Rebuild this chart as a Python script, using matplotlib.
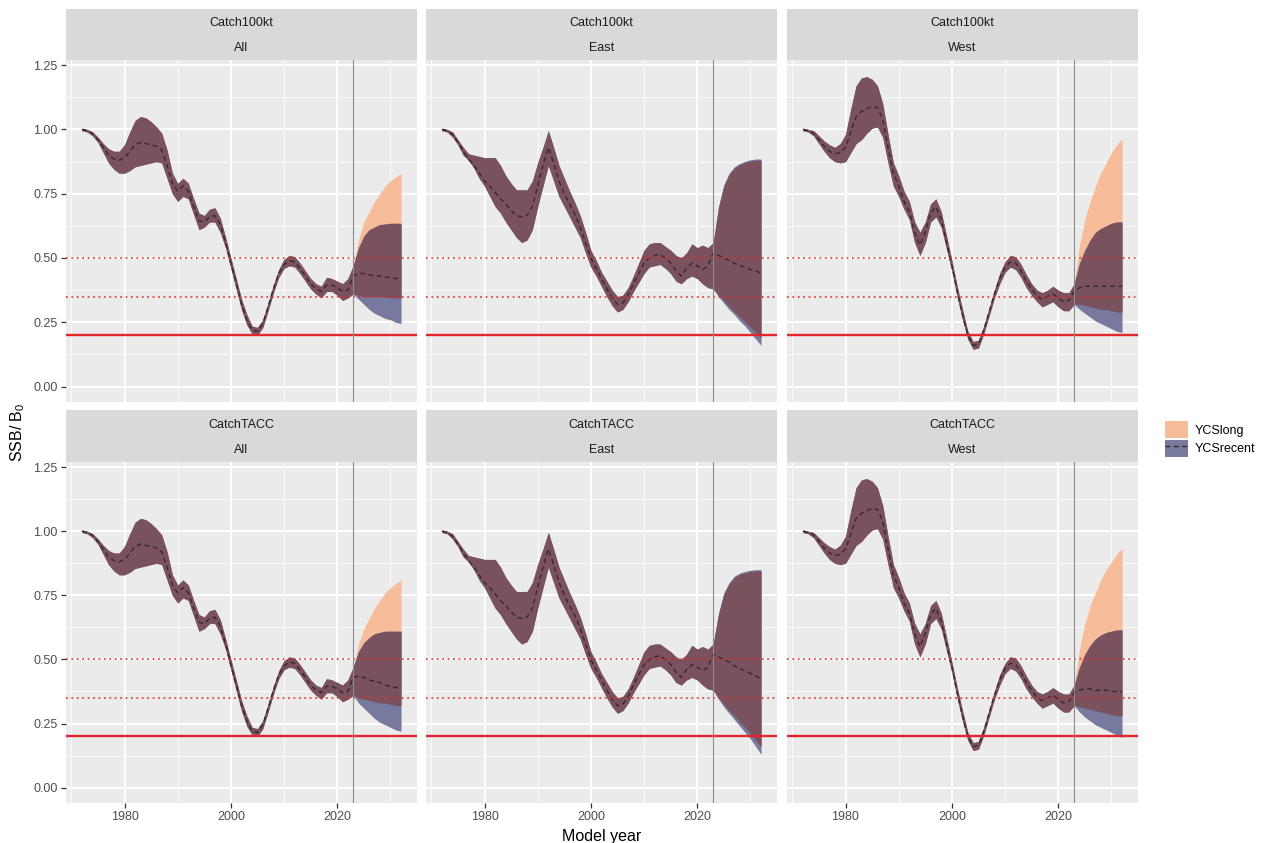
import numpy as np
import matplotlib
matplotlib.use("Agg")
import matplotlib.pyplot as plt
from matplotlib.patches import Patch
from matplotlib.lines import Line2D
from matplotlib.ticker import FixedLocator

plt.rcParams['font.family'] = ['Liberation Sans', 'DejaVu Sans']
plt.rcParams['mathtext.fontset'] = 'custom'
plt.rcParams['mathtext.rm'] = 'Liberation Sans'
plt.rcParams['mathtext.it'] = 'Liberation Sans'

# ---- data ----
hist_years = np.arange(1972, 2024)   # estimated period, shared by both YCS runs
proj_years = np.arange(2024, 2033)   # projection period
last_year = 2023

catch_levels = ['Catch100kt', 'CatchTACC']
regions = ['All', 'East', 'West']
ycs_labels = ['YCSlong', 'YCSrecent']

# SSB/B0 history: median, lower, upper
all_med = [1.00, 0.995, 0.985, 0.96, 0.93, 0.90, 0.885, 0.88, 0.89, 0.915,
           0.94, 0.95, 0.945, 0.94, 0.935, 0.92, 0.86, 0.79, 0.76, 0.78,
           0.76, 0.70, 0.645, 0.64, 0.66, 0.665, 0.63, 0.56, 0.48, 0.40,
           0.32, 0.26, 0.22, 0.215, 0.245, 0.31, 0.38, 0.44, 0.475, 0.49,
           0.485, 0.46, 0.43, 0.40, 0.38, 0.37, 0.395, 0.395, 0.385, 0.37,
           0.375, 0.43]
all_lo = [0.995, 0.99, 0.975, 0.95, 0.91, 0.87, 0.845, 0.83, 0.83, 0.84,
          0.855, 0.86, 0.865, 0.87, 0.875, 0.87, 0.81, 0.75, 0.72, 0.74,
          0.73, 0.67, 0.61, 0.62, 0.64, 0.64, 0.60, 0.54, 0.46, 0.38,
          0.30, 0.24, 0.205, 0.20, 0.23, 0.295, 0.365, 0.425, 0.46, 0.47,
          0.465, 0.44, 0.41, 0.38, 0.36, 0.345, 0.37, 0.37, 0.355, 0.335,
          0.345, 0.36]
all_hi = [1.005, 1.0, 0.99, 0.97, 0.945, 0.925, 0.915, 0.915, 0.94, 0.99,
          1.035, 1.05, 1.045, 1.03, 1.01, 0.985, 0.92, 0.83, 0.79, 0.81,
          0.79, 0.73, 0.675, 0.665, 0.69, 0.695, 0.655, 0.58, 0.50, 0.42,
          0.34, 0.28, 0.235, 0.23, 0.26, 0.325, 0.395, 0.455, 0.495, 0.51,
          0.505, 0.48, 0.45, 0.42, 0.40, 0.39, 0.425, 0.42, 0.41, 0.40,
          0.42, 0.47]

east_med = [1.00, 0.995, 0.98, 0.95, 0.915, 0.885, 0.86, 0.83, 0.80, 0.78,
            0.755, 0.73, 0.71, 0.685, 0.665, 0.66, 0.665, 0.70, 0.78, 0.86,
            0.93, 0.87, 0.80, 0.75, 0.71, 0.67, 0.62, 0.56, 0.50, 0.46,
            0.42, 0.38, 0.345, 0.32, 0.325, 0.355, 0.40, 0.44, 0.48, 0.50,
            0.51, 0.515, 0.50, 0.48, 0.45, 0.43, 0.46, 0.48, 0.47, 0.455,
            0.47, 0.52]
east_lo = [0.995, 0.99, 0.97, 0.94, 0.90, 0.88, 0.85, 0.81, 0.78, 0.74,
           0.70, 0.675, 0.64, 0.61, 0.58, 0.56, 0.57, 0.61, 0.70, 0.78,
           0.86, 0.80, 0.74, 0.70, 0.66, 0.62, 0.58, 0.52, 0.465, 0.43,
           0.39, 0.35, 0.315, 0.29, 0.30, 0.33, 0.37, 0.405, 0.44, 0.465,
           0.47, 0.475, 0.46, 0.44, 0.41, 0.40, 0.42, 0.43, 0.42, 0.40,
           0.385, 0.38]
east_hi = [1.005, 1.0, 0.99, 0.96, 0.93, 0.905, 0.90, 0.895, 0.89, 0.89,
           0.89, 0.86, 0.82, 0.79, 0.765, 0.765, 0.765, 0.80, 0.87, 0.93,
           0.995, 0.93, 0.86, 0.81, 0.76, 0.715, 0.665, 0.60, 0.53, 0.49,
           0.445, 0.41, 0.375, 0.35, 0.355, 0.385, 0.43, 0.48, 0.53, 0.555,
           0.56, 0.56, 0.545, 0.53, 0.51, 0.50, 0.52, 0.555, 0.54, 0.55,
           0.54, 0.56]

west_med = [1.00, 0.995, 0.985, 0.96, 0.935, 0.915, 0.905, 0.91, 0.93, 0.99,
            1.05, 1.07, 1.08, 1.09, 1.085, 1.04, 0.93, 0.83, 0.78, 0.72,
            0.68, 0.60, 0.55, 0.60, 0.675, 0.70, 0.65, 0.56, 0.47, 0.37,
            0.28, 0.20, 0.16, 0.165, 0.22, 0.29, 0.36, 0.42, 0.465, 0.485,
            0.48, 0.45, 0.41, 0.38, 0.35, 0.34, 0.35, 0.36, 0.345, 0.33,
            0.335, 0.37]
west_lo = [0.995, 0.99, 0.975, 0.945, 0.915, 0.89, 0.875, 0.87, 0.875, 0.91,
           0.945, 0.96, 0.985, 1.005, 1.01, 0.97, 0.87, 0.78, 0.74, 0.69,
           0.65, 0.56, 0.51, 0.56, 0.64, 0.66, 0.62, 0.535, 0.45, 0.35,
           0.26, 0.185, 0.145, 0.15, 0.205, 0.275, 0.345, 0.40, 0.445, 0.465,
           0.455, 0.425, 0.385, 0.355, 0.33, 0.31, 0.32, 0.33, 0.31, 0.295,
           0.295, 0.32]
west_hi = [1.005, 1.0, 0.995, 0.975, 0.955, 0.94, 0.93, 0.945, 0.98, 1.08,
           1.17, 1.20, 1.205, 1.195, 1.17, 1.10, 0.98, 0.87, 0.82, 0.76,
           0.72, 0.64, 0.60, 0.64, 0.71, 0.73, 0.68, 0.585, 0.49, 0.39,
           0.30, 0.215, 0.175, 0.18, 0.235, 0.305, 0.375, 0.44, 0.485, 0.51,
           0.505, 0.475, 0.435, 0.40, 0.375, 0.365, 0.375, 0.39, 0.375, 0.365,
           0.365, 0.40]

# projections 2024-2032: median (YCSrecent), YCSlong band, YCSrecent band
c100_all_med = [0.44, 0.44, 0.435, 0.43, 0.43, 0.425, 0.425, 0.42, 0.42]
c100_all_long_lo = [0.355, 0.35, 0.35, 0.35, 0.35, 0.348, 0.346, 0.345, 0.345]
c100_all_long_hi = [0.57, 0.64, 0.68, 0.72, 0.75, 0.78, 0.80, 0.815, 0.83]
c100_all_rec_lo = [0.34, 0.32, 0.30, 0.285, 0.275, 0.265, 0.26, 0.25, 0.245]
c100_all_rec_hi = [0.54, 0.585, 0.61, 0.62, 0.63, 0.632, 0.635, 0.635, 0.635]

c100_east_med = [0.51, 0.50, 0.49, 0.48, 0.47, 0.465, 0.455, 0.45, 0.44]
c100_east_long_lo = [0.355, 0.335, 0.31, 0.29, 0.27, 0.25, 0.23, 0.21, 0.19]
c100_east_long_hi = [0.695, 0.78, 0.825, 0.85, 0.863, 0.871, 0.877, 0.88, 0.88]
c100_east_rec_lo = [0.35, 0.325, 0.30, 0.28, 0.255, 0.235, 0.21, 0.185, 0.16]
c100_east_rec_hi = [0.70, 0.785, 0.83, 0.855, 0.868, 0.876, 0.882, 0.885, 0.885]

c100_west_med = [0.385, 0.39, 0.39, 0.39, 0.39, 0.39, 0.39, 0.39, 0.39]
c100_west_long_lo = [0.32, 0.315, 0.31, 0.305, 0.30, 0.30, 0.295, 0.29, 0.29]
c100_west_long_hi = [0.55, 0.65, 0.72, 0.78, 0.83, 0.87, 0.91, 0.94, 0.965]
c100_west_rec_lo = [0.30, 0.285, 0.27, 0.255, 0.245, 0.235, 0.225, 0.215, 0.21]
c100_west_rec_hi = [0.48, 0.53, 0.57, 0.60, 0.615, 0.625, 0.635, 0.64, 0.64]

tacc_all_med = [0.435, 0.43, 0.42, 0.415, 0.41, 0.40, 0.395, 0.39, 0.39]
tacc_all_long_lo = [0.35, 0.345, 0.34, 0.335, 0.33, 0.33, 0.325, 0.32, 0.32]
tacc_all_long_hi = [0.56, 0.62, 0.66, 0.70, 0.73, 0.76, 0.78, 0.795, 0.81]
tacc_all_rec_lo = [0.33, 0.31, 0.29, 0.27, 0.255, 0.245, 0.235, 0.225, 0.22]
tacc_all_rec_hi = [0.53, 0.565, 0.585, 0.60, 0.605, 0.61, 0.61, 0.61, 0.61]

tacc_east_med = [0.51, 0.50, 0.49, 0.475, 0.465, 0.455, 0.445, 0.435, 0.425]
tacc_east_long_lo = [0.35, 0.325, 0.30, 0.28, 0.255, 0.235, 0.21, 0.185, 0.16]
tacc_east_long_hi = [0.675, 0.755, 0.795, 0.82, 0.832, 0.838, 0.843, 0.845, 0.845]
tacc_east_rec_lo = [0.345, 0.315, 0.29, 0.265, 0.24, 0.215, 0.19, 0.16, 0.13]
tacc_east_rec_hi = [0.68, 0.76, 0.80, 0.825, 0.837, 0.843, 0.848, 0.85, 0.85]

tacc_west_med = [0.38, 0.385, 0.385, 0.38, 0.38, 0.38, 0.375, 0.375, 0.375]
tacc_west_long_lo = [0.315, 0.31, 0.305, 0.30, 0.295, 0.29, 0.285, 0.28, 0.28]
tacc_west_long_hi = [0.54, 0.64, 0.71, 0.76, 0.81, 0.85, 0.88, 0.91, 0.935]
tacc_west_rec_lo = [0.295, 0.275, 0.26, 0.245, 0.235, 0.225, 0.215, 0.205, 0.195]
tacc_west_rec_hi = [0.47, 0.52, 0.555, 0.58, 0.595, 0.605, 0.61, 0.615, 0.615]

ref_limit = 0.2          # solid red line
ref_targets = [0.35, 0.5]  # dotted red lines

history = {
    'All': (all_med, all_lo, all_hi),
    'East': (east_med, east_lo, east_hi),
    'West': (west_med, west_lo, west_hi),
}
projection = {
    ('Catch100kt', 'All'): (c100_all_med, c100_all_long_lo, c100_all_long_hi, c100_all_rec_lo, c100_all_rec_hi),
    ('Catch100kt', 'East'): (c100_east_med, c100_east_long_lo, c100_east_long_hi, c100_east_rec_lo, c100_east_rec_hi),
    ('Catch100kt', 'West'): (c100_west_med, c100_west_long_lo, c100_west_long_hi, c100_west_rec_lo, c100_west_rec_hi),
    ('CatchTACC', 'All'): (tacc_all_med, tacc_all_long_lo, tacc_all_long_hi, tacc_all_rec_lo, tacc_all_rec_hi),
    ('CatchTACC', 'East'): (tacc_east_med, tacc_east_long_lo, tacc_east_long_hi, tacc_east_rec_lo, tacc_east_rec_hi),
    ('CatchTACC', 'West'): (tacc_west_med, tacc_west_long_lo, tacc_west_long_hi, tacc_west_rec_lo, tacc_west_rec_hi),
}

# ---- styling ----
col_long = '#F7BD9A'
col_recent = '#777A9E'
col_both = '#7A525E'
col_median = '#3A2630'
panel_bg = '#EBEBEB'
strip_bg = '#D9D9D9'
red = '#E3262B'

W, H = 1262, 843
fig = plt.figure(figsize=(W / 100, H / 100), dpi=100)

col_left = [66, 426, 787]
panel_w = 351
row_panel = [(60, 402), (462, 803)]   # top, bottom in pixels
row_strip = [(9, 60), (410, 462)]


def px_box(x0, y0, x1, y1):
    return [x0 / W, 1 - y1 / H, (x1 - x0) / W, (y1 - y0) / H]


def draw_panel(ax, hist, proj):
    h_med, h_lo, h_hi = hist
    p_med, l_lo, l_hi, r_lo, r_hi = proj
    yrs = np.concatenate([hist_years, proj_years])
    long_lo = np.concatenate([h_lo, l_lo])
    long_hi = np.concatenate([h_hi, l_hi])
    rec_lo = np.concatenate([h_lo, r_lo])
    rec_hi = np.concatenate([h_hi, r_hi])
    med = np.concatenate([h_med, p_med])

    ax.fill_between(yrs, long_lo, long_hi, color=col_long, lw=0, zorder=2)
    ax.fill_between(yrs, rec_lo, rec_hi, color=col_recent, lw=0, zorder=2)
    ax.fill_between(yrs, np.maximum(long_lo, rec_lo), np.minimum(long_hi, rec_hi),
                    color=col_both, lw=0, zorder=3)
    ax.plot(yrs, med, color=col_median, lw=1.0, dashes=(3.5, 2.5), zorder=4)

    ax.axhline(ref_limit, color=red, lw=1.7, zorder=5)
    for t in ref_targets:
        ax.axhline(t, color=red, lw=1.3, dashes=(1, 2.0), alpha=0.85, zorder=5)
    ax.axvline(last_year, color='#8C8C8C', lw=0.8, zorder=5)


for r, catch in enumerate(catch_levels):
    for c, reg in enumerate(regions):
        x0 = col_left[c]
        py0, py1 = row_panel[r]
        sy0, sy1 = row_strip[r]

        ax = fig.add_axes(px_box(x0, py0, x0 + panel_w, py1))
        ax.set_facecolor(panel_bg)
        for s in ax.spines.values():
            s.set_visible(False)
        ax.set_xlim(1969, 2035)
        ax.set_ylim(-0.06, 1.27)
        ax.xaxis.set_major_locator(FixedLocator([1980, 2000, 2020]))
        ax.xaxis.set_minor_locator(FixedLocator([1970, 1990, 2010, 2030]))
        ax.yaxis.set_major_locator(FixedLocator([0, 0.25, 0.5, 0.75, 1.0, 1.25]))
        ax.yaxis.set_minor_locator(FixedLocator([0.125, 0.375, 0.625, 0.875, 1.125]))
        ax.grid(which='major', color='white', lw=1.3, zorder=0)
        ax.grid(which='minor', color='white', lw=0.6, zorder=0)
        ax.set_axisbelow(True)
        ax.tick_params(which='minor', length=0)
        ax.tick_params(which='major', length=3.5, width=0.9, color='#333333',
                       labelsize=9, labelcolor='#4D4D4D', pad=2.5)
        ax.set_yticklabels(['0.00', '0.25', '0.50', '0.75', '1.00', '1.25'])
        if c > 0:
            ax.tick_params(axis='y', left=False, labelleft=False)
        if r == 0:
            ax.tick_params(axis='x', bottom=False, labelbottom=False)

        draw_panel(ax, history[reg], projection[(catch, reg)])

        sax = fig.add_axes(px_box(x0, sy0, x0 + panel_w, sy1))
        sax.set_facecolor(strip_bg)
        sax.set_xticks([])
        sax.set_yticks([])
        for s in sax.spines.values():
            s.set_visible(False)
        sax.text(0.5, 0.72, catch, ha='center', va='center', fontsize=9,
                 color='#1A1A1A', transform=sax.transAxes)
        sax.text(0.5, 0.24, reg, ha='center', va='center', fontsize=9,
                 color='#1A1A1A', transform=sax.transAxes)

fig.text(602 / W, 1 - 836 / H, 'Model year', ha='center', va='center',
         fontsize=11.5, color='black')
fig.text(18 / W, 1 - 432 / H, r'SSB/ B$_0$', ha='center', va='center',
         rotation=90, fontsize=11.5, color='black')

handles = [Patch(facecolor=col_long, edgecolor='none'),
           (Patch(facecolor=col_recent, edgecolor='none'),
            Line2D([0], [0], color=col_median, lw=1.0, dashes=(3.5, 2.5)))]
fig.legend(handles, ycs_labels, loc='center left',
           bbox_to_anchor=(1160 / W, 1 - 439 / H), frameon=False,
           fontsize=9, handlelength=1.8, handleheight=1.7,
           labelspacing=0.15, handletextpad=0.6, borderaxespad=0)

fig.savefig('out.png', dpi=100)
